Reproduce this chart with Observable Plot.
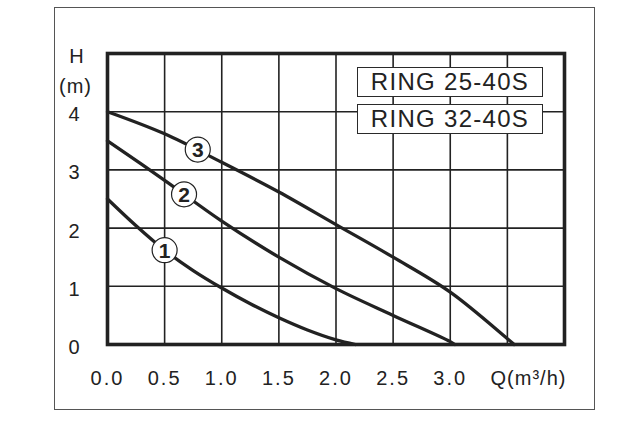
<!DOCTYPE html>
<html>
<head>
<meta charset="utf-8">
<script src="https://cdn.jsdelivr.net/npm/d3@7"></script>
<script src="https://cdn.jsdelivr.net/npm/@observablehq/plot@0.6"></script>
<style>
  html, body { margin: 0; padding: 0; background: #fff; }
  #wrap { position: relative; width: 632px; height: 430px; overflow: hidden; font-family: "Liberation Sans", Arial, sans-serif; }
  #frame { position: absolute; left: 54px; top: 7px; width: 541px; height: 403px; border: 1px solid #555; box-sizing: border-box; }
  #chart { position: absolute; left: 0; top: 0; }
  .legbox { position: absolute; left: 357px; width: 186px; height: 30px; box-sizing: border-box;
            border: 1.5px solid #2a2a2a; background: #fff; color: #222; font-size: 24px; letter-spacing: 1.3px;
            text-align: center; line-height: 28px; white-space: nowrap; }
  svg [aria-label="x-axis tick label"] text { letter-spacing: 2px; }
  svg .spaced text { letter-spacing: 1px; }
</style>
</head>
<body>
<div id="wrap">
  <div id="frame"></div>
  <div id="chart"></div>
</div>
<script>
// Curve 1
const q1 = [0, 0.25, 0.5, 0.75, 1.0, 1.25, 1.5, 1.75, 2.0, 2.17];
const h1 = [2.5, 2.04, 1.62, 1.27, 0.97, 0.70, 0.46, 0.25, 0.08, 0];
// Curve 2
const q2 = [0, 0.5, 1.0, 1.5, 2.0, 2.5, 3.0, 3.04];
const h2 = [3.5, 2.82, 2.12, 1.50, 0.96, 0.50, 0.05, 0];
// Curve 3
const q3 = [0, 0.5, 1.0, 1.5, 2.0, 2.5, 3.0, 3.5, 3.56];
const h3 = [4.0, 3.62, 3.13, 2.62, 2.06, 1.50, 0.90, 0.10, 0];

// Circled curve labels
const labelIds = ["1", "2", "3"];
const labelQ = [0.5, 0.67, 0.79];
const labelH = [1.62, 2.58, 3.35];

// Axis ticks
const xTicks = [0, 0.5, 1.0, 1.5, 2.0, 2.5, 3.0];
const xGrid = [0.5, 1.0, 1.5, 2.0, 2.5, 3.0, 3.5];
const yTicks = [0, 1, 2, 3, 4];
const yGrid = [1, 2, 3, 4];

// Legend
const legendNames = ["RING 25-40S", "RING 32-40S"];
const xLabel = "Q(m³/h)";
const yLabelTop = "H";
const yLabelUnit = "(m)";

const curves = [[q1, h1, "1"], [q2, h2, "2"], [q3, h3, "3"]].flatMap(([q, h, id]) =>
  q.map((v, i) => ({q: v, h: h[i], id})));
const labels = labelIds.map((id, i) => ({id, q: labelQ[i], h: labelH[i]}));

const ink = "#222";
const plot = Plot.plot({
  width: 632,
  height: 430,
  marginLeft: 107,
  marginRight: 68,
  marginTop: 53,
  marginBottom: 86,
  style: {fontFamily: "'Liberation Sans', Arial, sans-serif", fontSize: "20px", color: ink, background: "transparent"},
  x: {domain: [0, 4], axis: null},
  y: {domain: [0, 5], axis: null},
  marks: [
    Plot.ruleX(xGrid, {stroke: ink, strokeWidth: 1.6}),
    Plot.ruleY(yGrid, {stroke: ink, strokeWidth: 1.6}),
    Plot.line(curves, {x: "q", y: "h", z: "id", stroke: ink, strokeWidth: 3.3, curve: "catmull-rom"}),
    Plot.frame({stroke: ink, strokeWidth: 3.6}),
    Plot.axisX(xTicks, {tickSize: 0, tickPadding: 26, label: null, tickFormat: d => d.toFixed(1), fontSize: 20, fill: ink}),
    Plot.text(yTicks, {frameAnchor: "left", y: d => d, text: d => String(d), textAnchor: "end", dx: -28, dy: 3, fontSize: 20, fill: ink}),
    Plot.dot(labels, {x: "q", y: "h", r: 12.5, fill: "white", stroke: ink, strokeWidth: 1.2}),
    Plot.text(labels, {x: "q", y: "h", text: "id", fontSize: 21, fontWeight: "bold", fill: ink, dy: 1}),
    Plot.text([yLabelTop], {frameAnchor: "top-left", text: d => d, textAnchor: "middle", lineAnchor: "middle", dx: -31, dy: 3, fontSize: 20, fill: ink}),
    Plot.text([yLabelUnit], {frameAnchor: "top-left", text: d => d, textAnchor: "middle", lineAnchor: "middle", dx: -32, dy: 33, fontSize: 20, fill: ink, className: "spaced"}),
    Plot.text([xLabel], {frameAnchor: "bottom-right", text: d => d, textAnchor: "middle", lineAnchor: "top", dx: -36, dy: 26, fontSize: 20, fill: ink, className: "spaced"})
  ]
});
document.getElementById("chart").appendChild(plot);

const wrap = document.getElementById("wrap");
const legendTops = [67, 104];
legendNames.forEach((name, i) => {
  const d = document.createElement("div");
  d.className = "legbox";
  d.style.top = legendTops[i] + "px";
  d.textContent = name;
  wrap.appendChild(d);
});
</script>
</body>
</html>
